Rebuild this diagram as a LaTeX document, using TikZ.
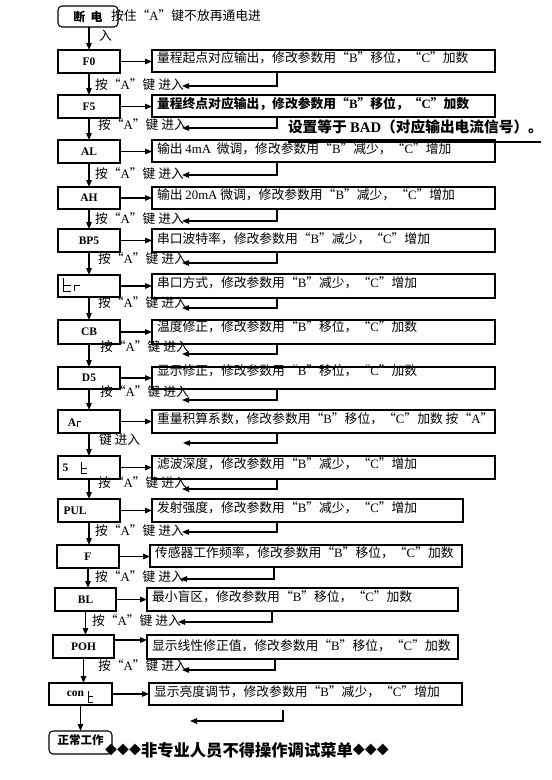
\documentclass[tikz,border=0pt]{standalone}
\usepackage{fontspec}
\setmainfont{Noto Sans CJK SC}
\newfontfamily\tmf{Liberation Serif}
\usetikzlibrary{arrows.meta}
\newcommand\qq[1]{\makebox[1em][c]{“}{\tmf #1}\makebox[1em][c]{”}}
\newcommand\dsz{\fontsize{12.8}{15}\selectfont}
\begin{document}
\begin{tikzpicture}[x=1pt,y=-1pt,
  every node/.style={inner sep=0pt, outer sep=0pt},
  ln/.style={line width=1.1pt},
  mbox/.style={draw, ln, anchor=north west, font=\tmf\bfseries\fontsize{11.5}{13}\selectfont},
  mtxt/.style={font=\tmf\bfseries\fontsize{11.5}{13}\selectfont},
  dbox/.style={draw, ln, anchor=north west},
  dtxt/.style={anchor=west, font=\dsz},
  lbl/.style={anchor=west, font=\dsz},
  arr/.style={ln, -{Triangle[length=7pt,width=5.5pt]}},
  seg/.style={line width=0.9pt}
]
\useasboundingbox (0,0) rectangle (552,780);
\fill[white] (0,0) rectangle (552,780);

% start
\node[draw, ln, rounded corners=4pt, anchor=north west, minimum width=60pt, minimum height=21pt,
      font=\bfseries\fontsize{12}{14}\selectfont] (s) at (58,6) {断\hspace{0.45em}电};
\node[lbl] (s2) at (111,16) {按住\qq{A}键不放再通电进};
\node[lbl] (s3) at (99,36) {入};

% main boxes
\node[mbox, minimum width=62pt, minimum height=23pt] (m1) at (58,50) {F0};
\node[mbox, minimum width=62pt, minimum height=23pt] (m2) at (58,95) {F5};
\node[mbox, minimum width=62pt, minimum height=23pt] (m3) at (58,140) {AL};
\node[mbox, minimum width=62pt, minimum height=22pt] (m4) at (58,187) {AH};
\node[mbox, minimum width=62pt, minimum height=23pt] (m5) at (58,229) {BP5};
\node[mbox, minimum width=62pt, minimum height=22pt] (m6) at (58,275) {};
\node[mbox, minimum width=62pt, minimum height=24pt] (m7) at (58,320) {CB};
\node[mbox, minimum width=62pt, minimum height=22pt] (m8) at (58,367) {D5};
\node[mbox, minimum width=62pt, minimum height=23pt] (m9) at (58,410) {};
\node[mbox, minimum width=62pt, minimum height=23pt] (m10) at (58,456) {};
\node[mbox, minimum width=62pt, minimum height=23pt] (m11) at (58,499) {};
\node[mbox, minimum width=62pt, minimum height=23pt] (m12) at (57,545) {F};
\node[mbox, minimum width=61pt, minimum height=23pt] (m13) at (55,588) {BL};
\node[mbox, minimum width=61pt, minimum height=23pt] (m14) at (53,635) {POH};
\node[mbox, minimum width=63pt, minimum height=22pt] (m15) at (49,683) {};

% special labels in main boxes
\draw[seg] (71,285) -- (63,285);
\draw[seg] (63,278) -- (63,291) -- (71,291);
\draw[seg] (74,291) -- (74,285) -- (80,285);
\node[mtxt] (a9) at (72,423) {A};
\draw[seg] (77.5,427) -- (77.5,421) -- (81,421);
\node[mtxt] (a10) at (65.5,468) {5};
\draw[seg] (87,468) -- (81,468);
\draw[seg] (81,462) -- (81,473) -- (87,473);
\node[mtxt] (a11) at (75,510.5) {PUL};
\node[mtxt] (a15) at (75.5,694) {con};
\draw[seg] (93,696.5) -- (88,696.5);
\draw[seg] (88,691) -- (88,702) -- (93,702);

% description boxes
\node[dbox, minimum width=343pt, minimum height=22pt] (d1) at (152,50) {};
\node[dbox, minimum width=343pt, minimum height=22pt] (d2) at (152,95) {};
\node[dbox, minimum width=343pt, minimum height=22pt] (d3) at (152,140) {};
\node[dbox, minimum width=343pt, minimum height=22pt] (d4) at (152,187) {};
\node[dbox, minimum width=343pt, minimum height=23pt] (d5) at (152,229) {};
\node[dbox, minimum width=343pt, minimum height=24pt] (d6) at (152,274) {};
\node[dbox, minimum width=343pt, minimum height=24pt] (d7) at (152,320) {};
\node[dbox, minimum width=343pt, minimum height=22pt] (d8) at (152,367) {};
\node[dbox, minimum width=343pt, minimum height=23pt] (d9) at (152,410) {};
\node[dbox, minimum width=343pt, minimum height=23pt] (d10) at (152,456) {};
\node[dbox, minimum width=311pt, minimum height=23pt] (d11) at (152,499) {};
\node[dbox, minimum width=312pt, minimum height=22pt] (d12) at (150,545) {};
\node[dbox, minimum width=311pt, minimum height=23pt] (d13) at (147,588) {};
\node[dbox, minimum width=311pt, minimum height=24pt] (d14) at (147,635) {};
\node[dbox, minimum width=313pt, minimum height=22pt] (d15) at (149,683) {};

% description texts
\node[dtxt] (t1) at (157,57.5) {量程起点对应输出，修改参数用\qq{B}移位，\qq{C}加数};
\node[dtxt, font=\dsz\bfseries] (t2) at (157,104) {量程终点对应输出，修改参数用\qq{B}移位，\qq{C}加数};
\node[dtxt] (t3) at (157,149) {输出 {\tmf 4mA}\ \ 微调，修改参数用\qq{B}减少，\qq{C}增加};
\node[dtxt] (t4) at (157,195) {输出 {\tmf 20mA} 微调，修改参数用\qq{B}减少，\qq{C}增加};
\node[dtxt] (t5) at (157,239) {串口波特率，修改参数用\qq{B}减少，\qq{C}增加};
\node[dtxt] (t6) at (157,282.5) {串口方式，修改参数用\qq{B}减少，\qq{C}增加};
\node[dtxt] (t7) at (157,326.7) {温度修正，修改参数用\qq{B}移位，\qq{C}加数};
\node[dtxt] (t8) at (157,371) {显示修正，修改参数用\qq{B}移位，\qq{C}加数};
\node[dtxt] (t9) at (157,418.7) {重量积算系数，修改参数用\qq{B}移位，\qq{C}加数 按\qq{A}};
\node[dtxt] (t10) at (157,464) {滤波深度，修改参数用\qq{B}减少，\qq{C}增加};
\node[dtxt] (t11) at (157,508) {发射强度，修改参数用\qq{B}减少，\qq{C}增加};
\node[dtxt] (t12) at (155,552.5) {传感器工作频率，修改参数用\qq{B}移位，\qq{C}加数};
\node[dtxt] (t13) at (152,597) {最小盲区，修改参数用\qq{B}移位，\qq{C}加数};
\node[dtxt] (t14) at (152,646) {显示线性修正值，修改参数用\qq{B}移位，\qq{C}加数};
\node[dtxt] (t15) at (154,692) {显示亮度调节，修改参数用\qq{B}减少，\qq{C}增加};

% horizontal arrows main -> description
\foreach \i in {1,...,13,15} {
  \draw[arr] (m\i.east) -- (m\i.east -| d\i.west);
}
\draw[arr] ([yshift=6.5pt]m14.east) -- ([yshift=6.5pt]m14.east -| d14.west);

% vertical arrows
\coordinate (v0) at (89,0);
\draw[arr] (s.south -| v0) -- (m1.north -| v0);
\foreach \i/\j in {1/2,2/3,3/4,4/5,5/6,6/7,7/8,8/9,9/10,10/11,11/12,12/13,13/14,14/15} {
  \draw[arr] (m\i.south) -- (m\i.south |- m\j.north);
}
\node[draw, ln, rounded corners=4pt, anchor=north west, minimum width=63pt, minimum height=23pt] (fin) at (49,731) {};
\node[font=\bfseries\fontsize{11.5}{13}\selectfont] (fint) at (80.5,740.5) {正常工作};
\draw[arr] (m15.south) -- (m15.south |- fin.north);

% return connectors
\foreach \i/\rx/\ry/\ex in {1/277/86/182, 2/277/128/182, 3/277/175/182, 4/277/221/182,
    5/277/263/182, 6/277/308/182, 7/277/354/182, 8/277/400/182, 9/277/443/183,
    10/277/489/182, 11/277/532/182, 12/274/579/180, 13/272/622/178, 14/275/670/182} {
  \coordinate (r\i) at (\rx,\ry);
  \coordinate (e\i) at (\ex,\ry);
  \draw[arr] (r\i |- d\i.south) -- (r\i) -- (e\i);
}
\coordinate (c1) at (283,710);
\coordinate (c2) at (283,721);
\coordinate (c3) at (190,721);
\draw[arr] (c1) -- (c2) -- (c3);

% labels
\node[lbl] (l1) at (95,85) {按\qq{A}键 进入};
\node[lbl] (l2) at (98,125) {按\qq{A}键 进入};
\node[lbl] (l3) at (95,174) {按\qq{A}键 进入};
\node[lbl] (l4) at (95,219) {按\qq{A}键 进入};
\node[lbl] (l5) at (98,259) {按\qq{A}键 进入};
\node[lbl] (l6) at (98,303) {按\qq{A}键 进入};
\node[lbl] (l7) at (100,347) {按\qq{A}键 进入};
\node[lbl] (l8) at (100,392) {按\qq{A}键 进入};
\node[lbl] (l9) at (99,440) {键 进入};
\node[lbl] (l10) at (98,483) {按\qq{A}键 进入};
\node[lbl] (l11) at (95,531) {按\qq{A}键 进入};
\node[lbl] (l12) at (95,577) {按\qq{A}键 进入};
\node[lbl] (l13) at (92,621) {按\qq{A}键 进入};
\node[lbl] (l14) at (98,666) {按\qq{A}键 进入};

% note
\node[anchor=west, font=\bfseries\fontsize{14.7}{18}\selectfont] (bad) at (288,127) {设置等于 {\tmf\bfseries BAD}（对应输出电流信号）。};
\coordinate (u1) at (288,142);
\coordinate (u2) at (541,142);
\draw[line width=1.2pt] (u1) -- (u2);

% warning
\node[anchor=west, font=\bfseries] (warn) at (105,750) {\raisebox{1.5pt}{\fontsize{12}{15}\selectfont ◆◆◆}{\fontsize{16.3}{20}\selectfont 非专业人员不得操作调试菜单}\raisebox{1.5pt}{\fontsize{12}{15}\selectfont ◆◆◆}};
\end{tikzpicture}
\end{document}
